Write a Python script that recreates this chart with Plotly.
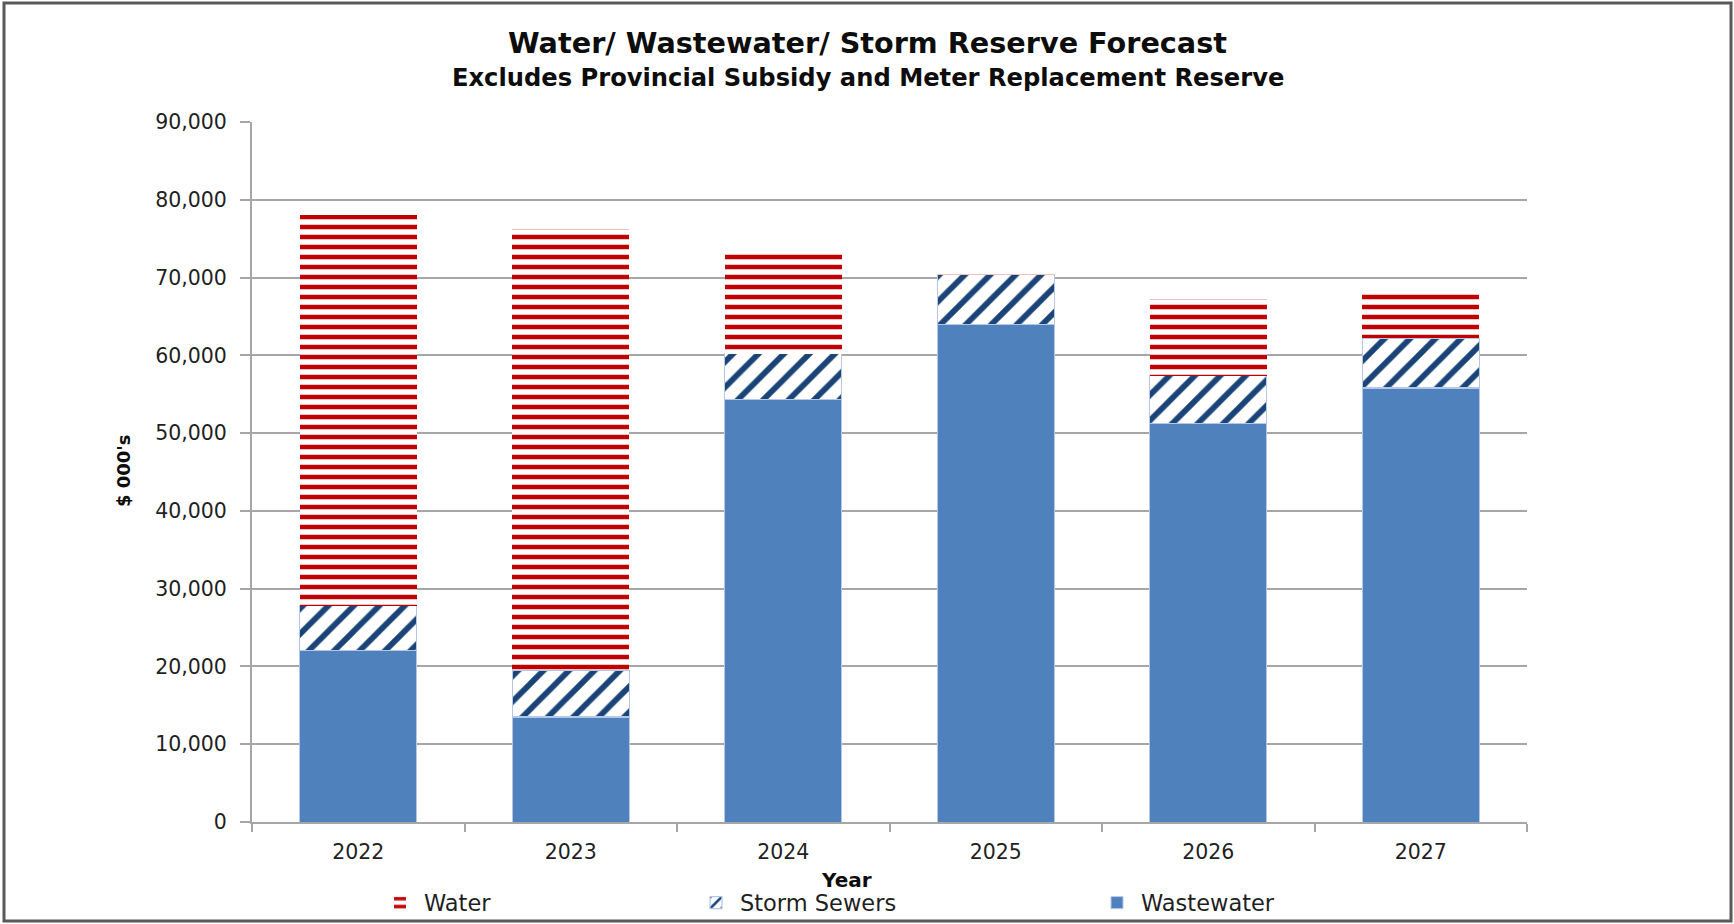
import plotly.graph_objects as go

years = ["2022", "2023", "2024", "2025", "2026", "2027"]
wastewater = [22000, 13500, 54300, 64000, 51200, 55800]
storm_sewers = [5800, 6000, 5900, 6350, 6200, 6400]
water = [50300, 56800, 12800, 250, 9900, 5700]

y_ticks = [0, 10000, 20000, 30000, 40000, 50000, 60000, 70000, 80000, 90000]

W, H = 1734, 924
L, R, T, B = 252, 207, 122, 102
PW, PH = W - L - R, H - T - B

def px_x(x):
    return (x - L) / PW

def px_y(y):
    return (H - B - y) / PH

FONT = "DejaVu Sans, Verdana, sans-serif"
EDGE = "#B4C7E7"
TXT = "#1F1F1F"

fig = go.Figure()
fig.add_trace(go.Bar(
    x=years, y=wastewater, name="Wastewater", legend="legend3",
    marker=dict(color="#4F81BD", line=dict(color=EDGE, width=1)),
))
fig.add_trace(go.Bar(
    x=years, y=storm_sewers, name="Storm Sewers", legend="legend2",
    marker=dict(color="white", line=dict(color=EDGE, width=1.2),
                pattern=dict(shape="/", fgcolor="#1A4478", bgcolor="white", fgopacity=1,
                             size=18, solidity=0.32, fillmode="overlay")),
))
fig.add_trace(go.Bar(
    x=years, y=water, name="Water", legend="legend",
    marker=dict(color="white", line=dict(color="white", width=0),
                pattern=dict(shape="-", fgcolor="#C00000", bgcolor="white", fgopacity=1,
                             size=10, solidity=0.45, fillmode="overlay")),
))

leg_common = dict(orientation="h", yanchor="middle", xanchor="left",
                  font=dict(family=FONT, size=22.5, color=TXT), itemwidth=38,
                  bgcolor="rgba(0,0,0,0)", borderwidth=0, visible=True)

fig.update_layout(
    width=W, height=H,
    margin=dict(l=L, r=R, t=T, b=B, autoexpand=False),
    paper_bgcolor="white", plot_bgcolor="white",
    barmode="stack", bargap=0.45, showlegend=True,
    font=dict(family=FONT, color=TXT),
    legend=dict(x=px_x(376), y=px_y(903), **leg_common),
    legend2=dict(x=px_x(692), y=px_y(903), **leg_common),
    legend3=dict(x=px_x(1093), y=px_y(903), **leg_common),
    xaxis=dict(type="category", showline=True, linecolor="#A6A6A6", linewidth=2,
               ticks="outside", tickson="boundaries", ticklen=8, tickcolor="#A6A6A6",
               tickwidth=1.5, showgrid=False, ticklabelstandoff=10,
               tickfont=dict(family=FONT, size=20.5, color=TXT)),
    yaxis=dict(range=[0, 90000], tickvals=y_ticks, tickformat=",",
               showline=True, linecolor="#A6A6A6", linewidth=2,
               ticks="outside", ticklen=10, tickcolor="#A6A6A6", tickwidth=1.5,
               showgrid=True, gridcolor="#A6A6A6", gridwidth=1.5, zeroline=False,
               ticklabelstandoff=9,
               tickfont=dict(family=FONT, size=20.5, color=TXT)),
    annotations=[
        dict(text="<b>Water/ Wastewater/ Storm Reserve Forecast</b>", xref="paper", yref="paper",
             x=px_x(867), y=px_y(43), xanchor="center", yanchor="middle", showarrow=False,
             font=dict(family=FONT, size=28.7, color="#0D0D0D")),
        dict(text="<b>Excludes Provincial Subsidy and Meter Replacement Reserve</b>", xref="paper", yref="paper",
             x=px_x(868), y=px_y(78), xanchor="center", yanchor="middle", showarrow=False,
             font=dict(family=FONT, size=24.2, color="#0D0D0D")),
        dict(text="<b>Year</b>", xref="paper", yref="paper",
             x=px_x(846), y=px_y(880), xanchor="center", yanchor="middle", showarrow=False,
             font=dict(family=FONT, size=20, color="#0D0D0D")),
        dict(text="<b>$ 000's</b>", xref="paper", yref="paper", textangle=-90,
             x=px_x(123), y=px_y(471), xanchor="center", yanchor="middle", showarrow=False,
             font=dict(family=FONT, size=18, color="#0D0D0D")),
    ],
    shapes=[
        dict(type="rect", xref="paper", yref="paper",
             x0=px_x(4), x1=px_x(1731), y0=px_y(921), y1=px_y(3),
             line=dict(color="#595959", width=3), fillcolor="rgba(0,0,0,0)", layer="above"),
    ],
)

fig.write_html("out.html", config={"displayModeBar": False},
               post_script="document.body.style.margin='0';document.body.style.overflow='hidden';")
